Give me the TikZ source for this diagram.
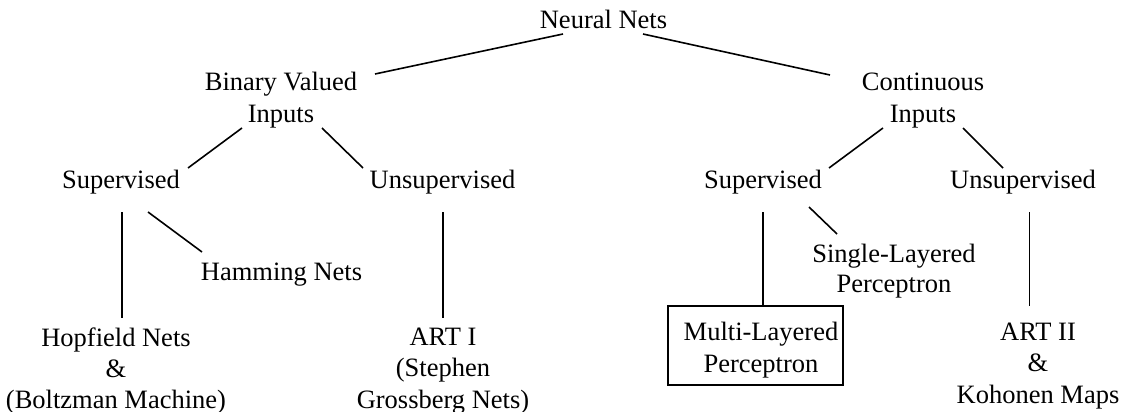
\documentclass[tikz,border=0pt]{standalone}
\usepackage{fontspec}
\setmainfont{Liberation Serif}
\begin{document}
% multi-line labels are anchored at the baseline of their last line
\begin{tikzpicture}[x=1pt,y=-1pt,
  lbl/.style={font=\fontsize{26.5}{32}\selectfont, inner sep=0pt, align=center, anchor=base},
  link/.style={line width=1.6pt},
  framebox/.style={draw, line width=1.6pt, minimum width=175pt, minimum height=79pt, inner sep=0pt}]
\useasboundingbox (0,0) rectangle (1125,412);

% root and first level
\node[lbl] (nn)  at (603.5,29) {Neural Nets};
\node[lbl] (bin) at (281,122) {Binary Valued\\Inputs};
\node[lbl] (con) at (923,122) {Continuous\\Inputs};

% second level
\node[lbl] (bs) at (121,188) {Supervised};
\node[lbl] (bu) at (442.5,188) {Unsupervised};
\node[lbl] (cs) at (763,188) {Supervised};
\node[lbl] (cu) at (1023,188) {Unsupervised};

% leaves
\node[lbl] (ham)  at (281.5,280) {Hamming Nets};
\node[lbl, font=\fontsize{26.5}{31}\selectfont] (hop)  at (116,408) {Hopfield Nets\\\&\\(Boltzman Machine)};
\node[lbl, font=\fontsize{26.5}{31.5}\selectfont] (art1) at (443,408) {ART I\\(Stephen\\Grossberg Nets)};
\node[lbl, font=\fontsize{26.5}{30}\selectfont] (slp) at (894,292) {Single-Layered\\Perceptron};
\node[framebox] (mlpbox) at (755.5,345.5) {};
\node[lbl] (mlp) at (761,372) {Multi-Layered\\Perceptron};
\node[lbl, font=\fontsize{26.5}{31.5}\selectfont] (art2) at (1038,403) {ART II\\\&\\Kohonen Maps};

% connectors
\draw[link] ([shift={(-40.5,5)}]nn.base) -- ([shift={(94,-48)}]bin.base);
\draw[link] ([shift={(39.5,5)}]nn.base) -- ([shift={(-93,-47)}]con.base);
\draw[link] ([shift={(-39,6)}]bin.base) -- ([shift={(67,-20)}]bs.base);
\draw[link] ([shift={(41,6)}]bin.base) -- ([shift={(-79.5,-20)}]bu.base);
\draw[link] ([shift={(-40,6)}]con.base) -- ([shift={(66,-20)}]cs.base);
\draw[link] ([shift={(40,6)}]con.base) -- ([shift={(-20,-20)}]cu.base);
\draw[link] ([shift={(0.7,24)}]bs.base) -- ([shift={(5.7,-90)}]hop.base);
\draw[link] ([shift={(27,24)}]bs.base) -- ([shift={(-79.5,-28)}]ham.base);
\draw[link] ([shift={(0.2,24)}]bu.base) -- ([shift={(-0.3,-90)}]art1.base);
\draw[link] ([shift={(-0.3,24)}]cs.base) -- ([shift={(7.2,0)}]mlpbox.north);
\draw[link] ([shift={(46,19)}]cs.base) -- ([shift={(-57,-58)}]slp.base);
\draw[link] ([shift={(6.3,24)}]cu.base) -- ([shift={(-8.7,-97)}]art2.base);
\end{tikzpicture}
\end{document}
